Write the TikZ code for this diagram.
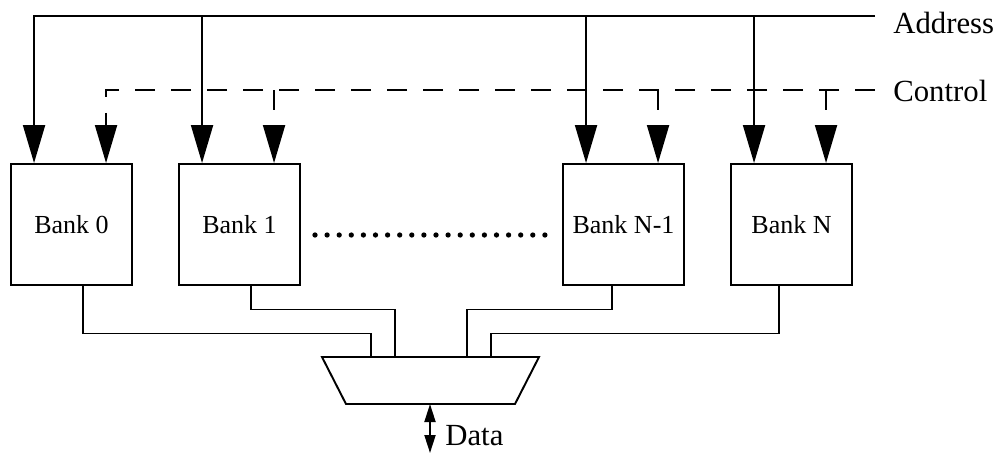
\documentclass[tikz,border=0pt]{standalone}
\usepackage{fontspec}
\setmainfont{Liberation Serif}
\usetikzlibrary{arrows.meta, calc}

\begin{document}
\begin{tikzpicture}[
    x=0.02cm, y=-0.02cm,
    bank/.style={rectangle, draw, line width=1.1pt,
                 minimum width=2.42cm, minimum height=2.42cm, inner sep=0pt,
                 font=\fontsize{14.8}{17}\selectfont},
    bus/.style={line width=1.1pt},
    ctl/.style={line width=1.1pt, dash pattern=on 0.4cm off 0.32cm},
    feed/.style={-{Triangle[length=0.76cm, width=0.44cm]}},
    wire/.style={line width=0.6pt},
    lbl/.style={anchor=base west, inner sep=0pt, font=\fontsize{17.5}{20}\selectfont}
  ]
    \useasboundingbox (0,0) rectangle (1000,454);

    % memory banks
    \node[bank] (b0)  at (71.5,224.5)  {Bank 0};
    \node[bank] (b1)  at (239.5,224.5) {Bank 1};
    \node[bank] (bn1) at (623.5,224.5) {Bank N-1};
    \node[bank] (bn)  at (791.5,224.5) {Bank N};
    \foreach \i in {0,...,19}
      \fill (315+\i*12.1,235) circle[radius=1.5pt];

    % bus inputs
    \foreach \b in {b0,b1,bn1,bn}{
      \coordinate (\b-a) at ($(\b.north west)+(24,0)$);
      \coordinate (\b-c) at ($(\b.north west)+(96,0)$);
    }
    \coordinate (addr) at (875,16);
    \coordinate (ctrl) at (875,90);
    \node[lbl] (addrlbl) at (893,33)  {Address};
    \node[lbl] (ctrllbl) at (893,101) {Control};

    \draw[bus, feed] (addr) -| (b0-a);
    \foreach \b in {b1,bn1,bn}
      \draw[bus, feed] (addr -| \b-a) -- (\b-a);
    \draw[ctl, feed] (ctrl) -| (b0-c);
    \foreach \b in {b1,bn1,bn}
      \draw[ctl, feed] (ctrl -| \b-c) -- (\b-c);

    % multiplexer
    \coordinate (mux) at (430.5,380.5);
    \draw[line width=1.1pt] ($(mux)+(-108.5,-23.5)$) -- ++(217,0)
      -- ++(-24,47) -- ++(-169,0) -- cycle;
    \draw[wire] ($(b0.south)+(11.5,0)$)   -- ++(0,48) -| ($(mux)+(-59.5,-23.5)$);
    \draw[wire] ($(b1.south)+(11.5,0)$)   -- ++(0,24) -| ($(mux)+(-35.5,-23.5)$);
    \draw[wire] ($(bn1.south)+(-11.5,0)$) -- ++(0,24) -| ($(mux)+(36.5,-23.5)$);
    \draw[wire] ($(bn.south)+(-12.5,0)$)  -- ++(0,48) -| ($(mux)+(60.5,-23.5)$);

    % data port
    \coordinate (data) at (430,453);
    \draw[line width=1.1pt, {Triangle[length=0.36cm, width=0.22cm]}-{Triangle[length=0.36cm, width=0.22cm]}]
      ($(mux)+(-0.5,23.5)$) -- (data);
    \node[lbl] (datalbl) at (445,445) {Data};
\end{tikzpicture}
\end{document}
